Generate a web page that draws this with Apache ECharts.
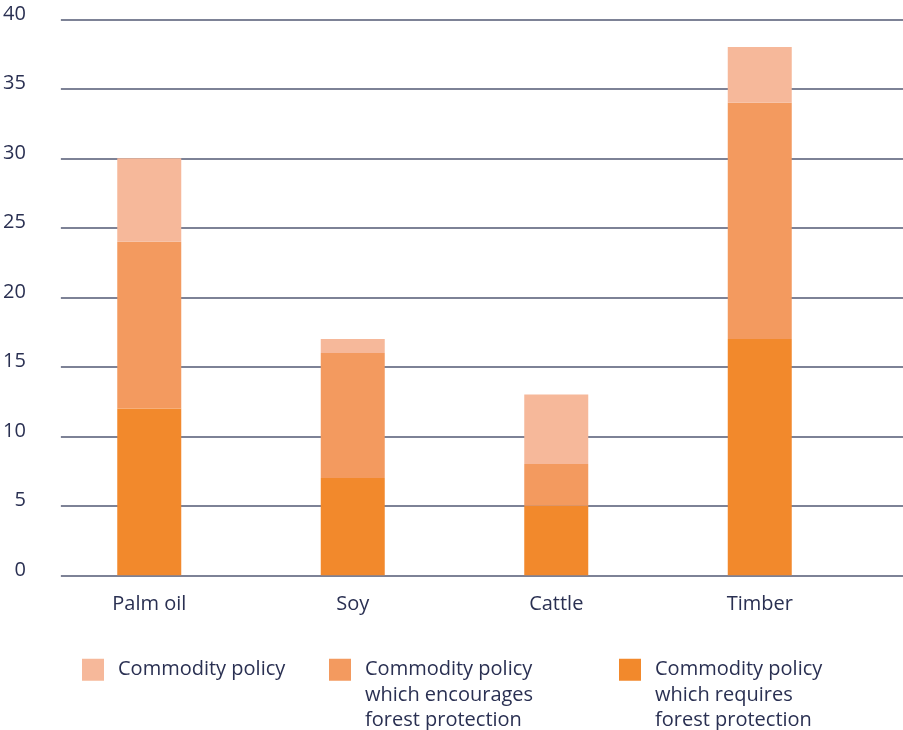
<!DOCTYPE html>
<html>
<head>
<meta charset="utf-8">
<script src="https://cdn.jsdelivr.net/npm/echarts@6/dist/echarts.min.js"></script>
<style>
html,body{margin:0;padding:0;background:#fff;}
#chart{width:903px;height:730px;}
</style>
</head>
<body>
<div id="chart"></div>
<script>
const categories = ['Palm oil', 'Soy', 'Cattle', 'Timber'];
const requiresProtection = [12, 7, 5, 17];
const encouragesProtection = [12, 9, 3, 17];
const commodityPolicy = [6, 1, 5, 4];
const yTicks = [0, 5, 10, 15, 20, 25, 30, 35, 40];

const seriesNames = [
  'Commodity policy',
  'Commodity policy\nwhich encourages\nforest protection',
  'Commodity policy\nwhich requires\nforest protection'
];
const colors = ['#F6B89A', '#F39A5F', '#F2892C'];
const textColor = '#2a3052';
const font = 'Open Sans';
const fs = 20;

const chart = echarts.init(document.getElementById('chart'));

function legendAt(name, left, top, multi) {
  return {
    data: [name],
    left: left,
    top: top,
    orient: 'vertical',
    padding: 0,
    itemWidth: 22,
    itemHeight: 22,
    icon: 'rect',
    selectedMode: false,
    formatter: multi ? function (n) { return '\n\n' + n; } : null,
    textStyle: {
      color: textColor,
      fontFamily: font,
      fontSize: fs,
      lineHeight: 25.5,
      padding: [0, 0, 0, 9]
    }
  };
}

const option = {
  animation: false,
  backgroundColor: '#fff',
  grid: [
    { left: 60, right: 0, top: 19.3, bottom: 154.7 },
    { left: 47.5, width: 814, top: 19.3, bottom: 154.7 }
  ],
  legend: [
    legendAt(seriesNames[0], 82, 657, false),
    legendAt(seriesNames[1], 329, 606, true),
    legendAt(seriesNames[2], 619, 606, true)
  ],
  xAxis: [
    { type: 'category', gridIndex: 0, data: categories, show: false },
    {
      type: 'category', gridIndex: 1, data: categories,
      axisLine: { show: false }, axisTick: { show: false },
      axisLabel: { color: textColor, fontFamily: font, fontSize: fs, margin: 19 }
    }
  ],
  yAxis: [
    {
      type: 'value', gridIndex: 0, min: yTicks[0], max: yTicks[yTicks.length - 1], interval: 5,
      axisLine: { show: false }, axisTick: { show: false },
      splitLine: { lineStyle: { color: '#525873', width: 1.5 } },
      axisLabel: { color: textColor, fontFamily: font, fontSize: fs, margin: 35, verticalAlign: 'bottom', lineHeight: 11 }
    },
    {
      type: 'value', gridIndex: 1, min: yTicks[0], max: yTicks[yTicks.length - 1], interval: 5,
      show: false, splitLine: { show: false }
    }
  ],
  series: [
    {
      name: seriesNames[2], type: 'bar', stack: 'total', xAxisIndex: 1, yAxisIndex: 1,
      data: requiresProtection, barWidth: 64, itemStyle: { color: colors[2] }
    },
    {
      name: seriesNames[1], type: 'bar', stack: 'total', xAxisIndex: 1, yAxisIndex: 1,
      data: encouragesProtection, barWidth: 64, itemStyle: { color: colors[1] }
    },
    {
      name: seriesNames[0], type: 'bar', stack: 'total', xAxisIndex: 1, yAxisIndex: 1,
      data: commodityPolicy, barWidth: 64, itemStyle: { color: colors[0] }
    }
  ]
};
chart.setOption(option);
</script>
</body>
</html>
